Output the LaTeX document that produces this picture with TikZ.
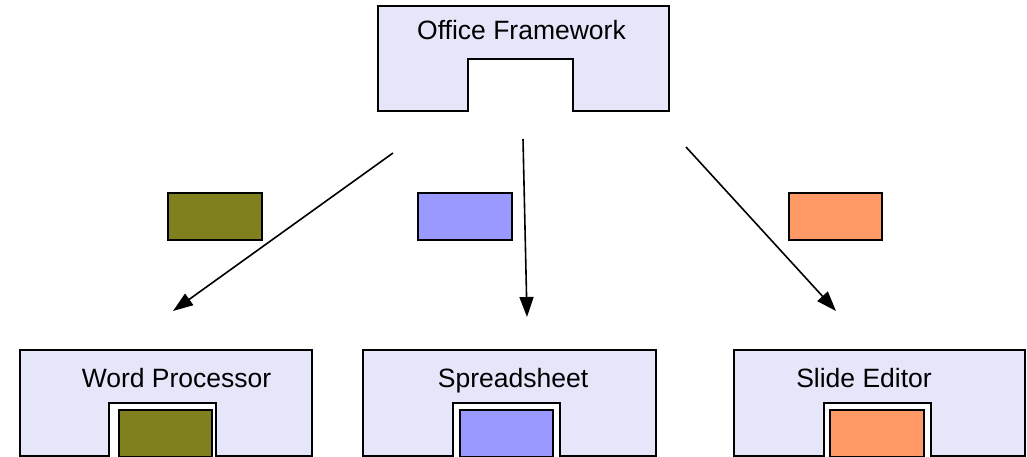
\documentclass[tikz,border=0pt]{standalone}
\usepackage{fontspec}
\setmainfont{Liberation Sans}
\usetikzlibrary{arrows.meta}
\definecolor{compfill}{RGB}{230,230,250}
\definecolor{olivebox}{RGB}{128,128,30}
\definecolor{bluebox}{RGB}{153,153,255}
\definecolor{orangebox}{RGB}{255,153,102}
\tikzset{
  comp/.style={draw=black, fill=compfill, line width=1.7pt, line join=miter},
  iface/.style={draw=black, line width=1.7pt, rectangle, inner sep=0pt, anchor=north west},
  label/.style={font=\fontsize{26.5}{31}\selectfont, anchor=base, inner sep=0pt},
  link/.style={-{Triangle[length=20pt,width=14pt]}, line width=1.6pt}
}
\begin{document}
\begin{tikzpicture}[x=1pt,y=-1pt]
\useasboundingbox (0,0) rectangle (1027,457);

% framework component with an empty socket
\path[comp] (378,6) -- (669,6) -- (669,111) -- (573,111) -- (573,59)
  -- (468,59) -- (468,111) -- (378,111) -- cycle;
\node[label] (fw) at (521.5,40) {Office Framework};

% application components with plugged-in interfaces
\path[comp] (20,350) -- (312,350) -- (312,456) -- (216,456) -- (216,403)
  -- (109,403) -- (109,456) -- (20,456) -- cycle;
\node[iface, fill=olivebox, minimum width=93pt, minimum height=47pt] (wpi) at (118,409) {};
\node[label] (wp) at (176.5,387) {Word Processor};

\path[comp] (363,350) -- (656,350) -- (656,456) -- (560,456) -- (560,403)
  -- (453,403) -- (453,456) -- (363,456) -- cycle;
\node[iface, fill=bluebox, minimum width=93pt, minimum height=47pt] (ssi) at (459,409) {};
\node[label] (ss) at (513,387) {Spreadsheet};

\path[comp] (734,350) -- (1025,350) -- (1025,456) -- (931,456) -- (931,403)
  -- (824,403) -- (824,456) -- (734,456) -- cycle;
\node[iface, fill=orangebox, minimum width=94pt, minimum height=47pt] (sei) at (829,409) {};
\node[label] (se) at (864,387) {Slide Editor};

% interface tokens beside the links
\node[iface, fill=olivebox, minimum width=94pt, minimum height=47pt] (wpt) at (167,192) {};
\node[iface, fill=bluebox, minimum width=94pt, minimum height=47pt] (sst) at (417,192) {};
\node[iface, fill=orangebox, minimum width=93pt, minimum height=47pt] (set) at (788,192) {};

% link end points
\coordinate (fw-a) at (393,153);
\coordinate (fw-b) at (523,139);
\coordinate (fw-c) at (686,147);
\coordinate (wp-in) at (173,311);
\coordinate (ss-in) at (527,317);
\coordinate (se-in) at (836,311);

\draw[link] (fw-a) -- (wp-in);
\draw[link] (fw-b) -- (ss-in);
\draw[link] (fw-c) -- (se-in);
\end{tikzpicture}
\end{document}
